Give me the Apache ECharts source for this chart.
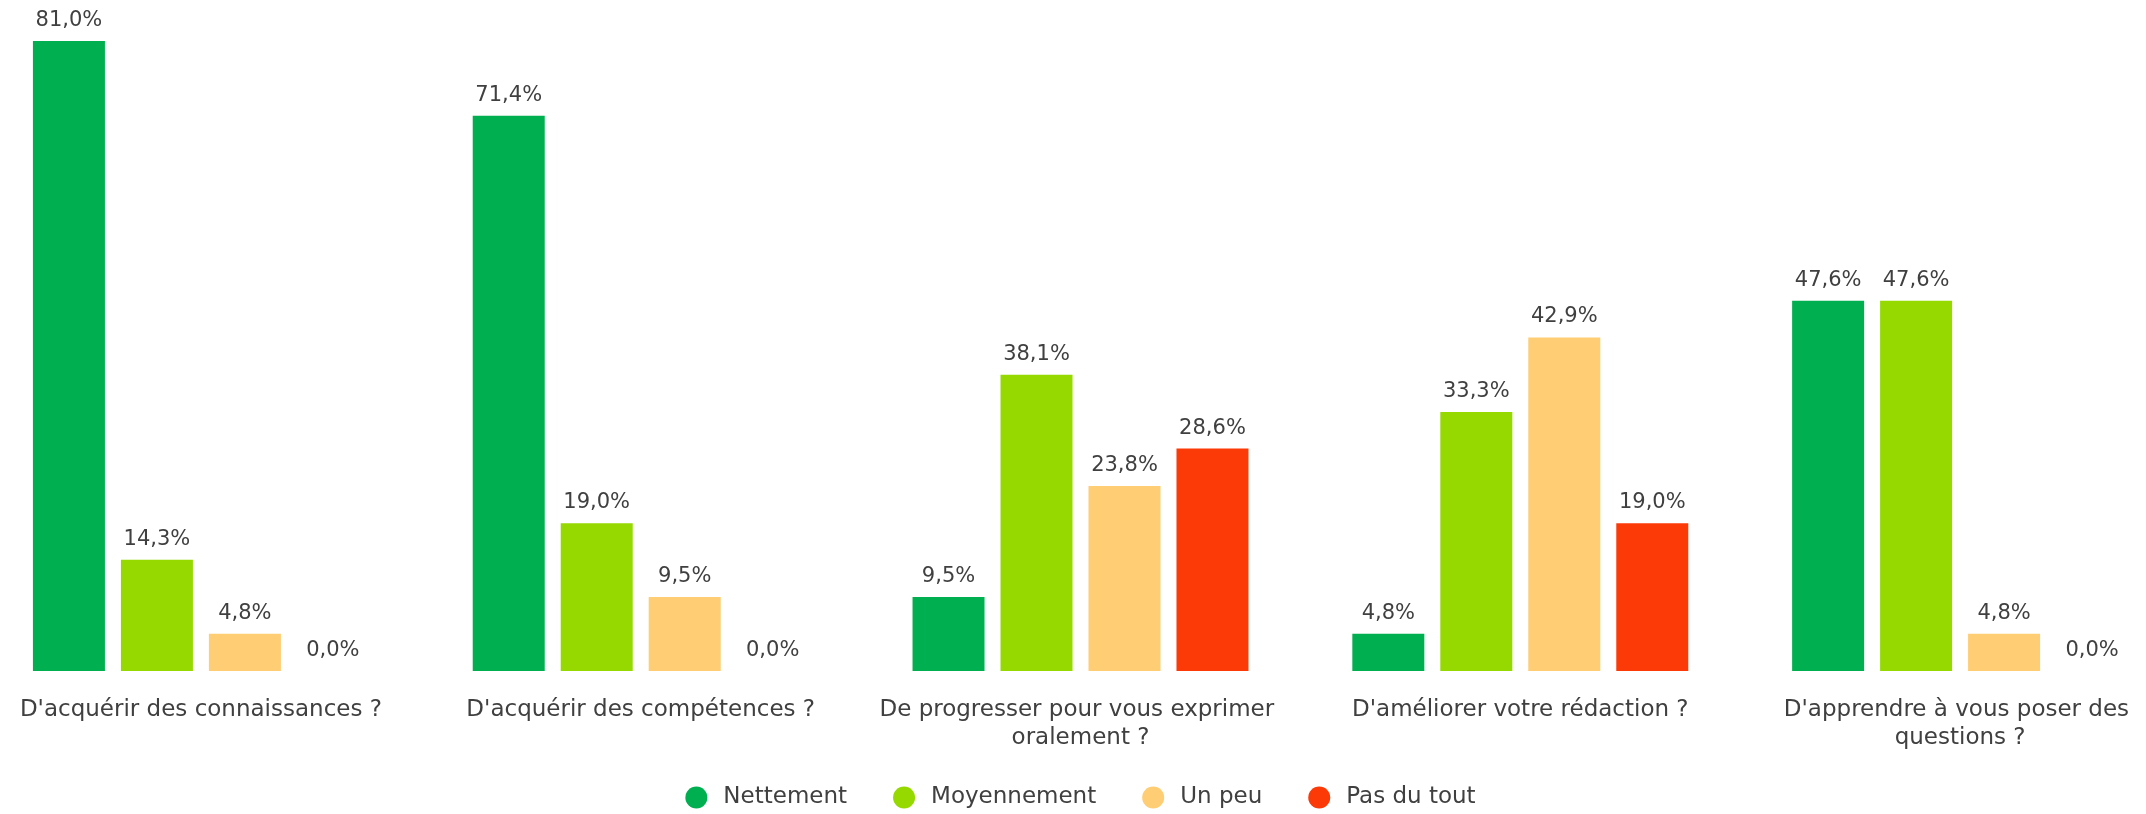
<!DOCTYPE html>
<html><head><meta charset="utf-8">
<script src="https://cdn.jsdelivr.net/npm/echarts@6/dist/echarts.min.js"></script>
<style>html,body{margin:0;padding:0;background:#fff;overflow:hidden;width:2146px;height:814px}#c{width:2199px;height:814px;margin-left:-19px}</style>
</head><body><div id="c"></div>
<script>
const categories = ["D'acquérir des connaissances ?", "D'acquérir des compétences ?", "De progresser pour vous exprimer oralement ?", "D'améliorer votre rédaction ?", "D'apprendre à vous poser des questions ?"];
const seriesNames = ["Nettement", "Moyennement", "Un peu", "Pas du tout"];
const nettement = [81.0, 71.4, 9.5, 4.8, 47.6];
const moyennement = [14.3, 19.0, 38.1, 33.3, 47.6];
const unPeu = [4.8, 9.5, 23.8, 42.9, 4.8];
const pasDuTout = [0.0, 0.0, 28.6, 19.0, 0.0];
const colors = ['#00B050', '#95D900', '#FFCD73', '#FC3A08'];

const FONT = 'DejaVu Sans';
const allData = [nettement, moyennement, unPeu, pasDuTout];
const chart = echarts.init(document.getElementById('c'), null, {renderer: 'canvas'});
chart.setOption({
  animation: false,
  color: colors,
  textStyle: {fontFamily: FONT},
  grid: {left: 0, right: 0, top: 10, bottom: 143, containLabel: false},
  legend: {
    data: seriesNames, top: 781, left: 'center', icon: 'circle',
    itemWidth: 22, itemHeight: 22, itemGap: 46,
    textStyle: {fontFamily: FONT, fontSize: 23, color: '#404040', padding: [0,0,0,11]}
  },
  xAxis: {
    type: 'category', data: categories,
    axisLine: {show: false}, axisTick: {show: false},
    axisLabel: {interval: 0, margin: 25, fontSize: 23, color: '#404040', width: 410, overflow: 'break', lineHeight: 28, fontFamily: FONT}
  },
  yAxis: {type: 'value', min: 0, max: 85, show: false, splitLine: {show: false}},
  series: allData.map((d, i) => ({
    name: seriesNames[i], type: 'bar', data: d,
    barWidth: 72, barGap: '22.2%',
    label: {show: true, position: 'top', distance: 10, fontSize: 21, color: '#404040', fontFamily: FONT,
      formatter: p => p.value.toFixed(1).replace('.', ',') + '%'}
  }))
});
</script></body></html>
